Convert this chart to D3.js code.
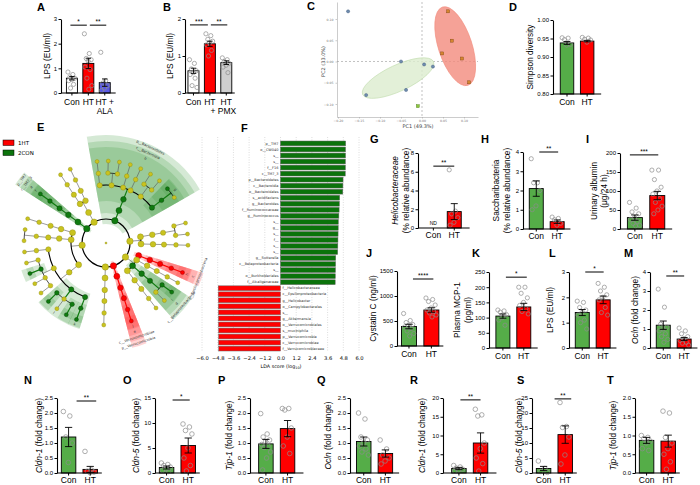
<!DOCTYPE html>
<html>
<head>
<meta charset="utf-8">
<script src="https://cdn.jsdelivr.net/npm/d3@7"></script>
<style>
body { margin: 0; background: #fff; }
svg { font-family: Arial, "Liberation Sans", sans-serif; }
</style>
</head>
<body>
<svg width="700" height="485"></svg>
<script>
const FONT = 'Arial, "Liberation Sans", sans-serif';
const GREEN = "#55ad48", RED = "#ff0000";

// ---------- A / B : LPS ----------
const catsA = ["Con", "HT", "HT +\nALA"];
const meanA = [0.6, 1.2, 0.42];
const semA = [0.07, 0.21, 0.15];
const ptsA = [[0.85, 0.75, 0.65, 0.6, 0.55, 0.5, 0.35, 0.2], [2.4, 1.6, 1.4, 1.35, 1.3, 1.05, 0.95, 0.6, 0.3, 0.15], [1.65, 0.5, 0.4, 0.3, 0.2, 0.1]];
const catsB = ["Con", "HT", "HT\n+ PMX"];
const meanB = [0.6, 1.33, 0.82];
const semB = [0.07, 0.07, 0.05];
const ptsB = [[0.9, 0.8, 0.65, 0.6, 0.55, 0.5, 0.4, 0.2, 0.15], [1.6, 1.55, 1.45, 1.4, 1.35, 1.3, 1.15, 1.0], [0.95, 0.9, 0.85, 0.8, 0.75, 0.7, 0.55]];

// ---------- C : PCoA ----------
const pcaConX = [-0.176, -0.05, 0.005, 0.026, -0.038, -0.133];
const pcaConY = [0.118, 0.0, -0.007, -0.012, -0.067, -0.079];
const pcaHTX = [0.062, 0.071, 0.048, 0.095, 0.112];
const pcaHTY = [0.118, 0.049, 0.019, 0.007, -0.049];
const pcaOtherX = [-0.01];
const pcaOtherY = [-0.105];
const ellCon = [-0.057, -0.039, 0.093, 0.031, -25];
const ellHT = [0.079, 0.036, 0.098, 0.04, 72];

// ---------- D : Simpson ----------
const catsCH = ["Con", "HT"];
const meanD = [0.938, 0.943];
const semD = [0.004, 0.002];
const ptsD = [[0.952, 0.951, 0.947, 0.934, 0.932], [0.953, 0.951, 0.948, 0.946, 0.94]];

// ---------- E : cladogram (name, group 0 none / 1 HT / 2 CON, children) ----------
const taxa = ["Bacteria", 0, [
  ["p__TM7", 2, [["c__TM7_3", 2, [["o__CW040", 2, [["f__F16", 2, [["g__", 2, [["s__", 2]]]]]]]]]]],
  ["p__Tenericutes", 0, [["c__Mollicutes", 0, [["o__RF39", 0, [["f__", 0, [["g__", 0, [["s__", 0]]]]]]], ["o__Anaeroplasmatales", 0, [["f__", 0, [["g__", 0, [["s__", 0]]]]]]]]]]],
  ["p__Bacteroidetes", 2, [["c__Bacteroidia", 2, [["o__Bacteroidales", 2, [
    ["f__S24_7", 0, [["g__", 0, [["s__", 0]]]]],
    ["f__Rikenellaceae", 0, [["g__", 0, [["s__", 0]]], ["g__Rikenella", 0, [["s__", 0]]]]],
    ["f__Prevotellaceae", 0, [["g__Prevotella", 0, [["s__", 0]]]]],
    ["f__Porphyromonadaceae", 0, [["g__Parabacteroides", 0, [["s__distasonis", 0]]]]],
    ["f__Odoribacteraceae", 0, [["g__Odoribacter", 0, [["s__", 0]]], ["g__Butyricimonas", 0, [["s__", 0]]]]],
    ["f__Bacteroidaceae", 2, [["g__Bacteroides", 2, [["s__acidifaciens", 2], ["s__", 0]]]]]
  ]]]]]],
  ["p__Actinobacteria", 0, [["c__Coriobacteriia", 0, [["o__Coriobacteriales", 0, [["f__Coriobacteriaceae", 0, [["g__Adlercreutzia", 0, [["s__", 0]]], ["g__", 0, [["s__", 0]]]]]]]]], ["c__Actinobacteria", 0, [["o__Bifidobacteriales", 0, [["f__Bifidobacteriaceae", 0, [["g__Bifidobacterium", 0, [["s__", 0]]]]]]]]]]],
  ["p__Proteobacteria", 0, [
    ["c__Epsilonproteobacteria", 1, [["o__Campylobacterales", 1, [["f__Helicobacteraceae", 1, [["g__Helicobacter", 1, [["s__", 1]]]]]]]]],
    ["c__Gammaproteobacteria", 0, [["o__Enterobacteriales", 0, [["f__Enterobacteriaceae", 0, [["g__", 0, [["s__", 0]]]]]]]]],
    ["c__Betaproteobacteria", 2, [["o__Burkholderiales", 2, [["f__Alcaligenaceae", 2, [["g__Sutterella", 2, [["s__", 2]]], ["g__Parasutterella", 0, [["s__", 0]]]]]]]]],
    ["c__Deltaproteobacteria", 0, [["o__Desulfovibrionales", 0, [["f__Desulfovibrionaceae", 0, [["g__Desulfovibrio", 0, [["s__", 0]]]]]]]]]
  ]],
  ["p__Verrucomicrobia", 1, [["c__Verrucomicrobiae", 1, [["o__Verrucomicrobiales", 1, [["f__Verrucomicrobiaceae", 1, [["g__Akkermansia", 1, [["s__muciniphila", 1]]]]]]]]]]],
  ["p__Deferribacteres", 0, [["c__Deferribacteres", 0, [["o__Deferribacterales", 0, [["f__Deferribacteraceae", 0, [["g__Mucispirillum", 0, [["s__schaedleri", 0]]]]]]]]]]],
  ["p__Firmicutes", 0, [
    ["c__Clostridia", 0, [["o__Clostridiales", 0, [
      ["f__", 2, [["g__", 2, [["s__", 2]]]]],
      ["f__Ruminococcaceae", 2, [["g__Ruminococcus", 2, [["s__", 2]]], ["g__Oscillospira", 0, [["s__", 0]]], ["g__", 2, [["s__", 2]]]]],
      ["f__Lachnospiraceae", 0, [["g__Dorea", 0, [["s__", 0]]], ["g__Coprococcus", 0, [["s__", 0]]], ["g__", 2, [["s__", 2]]], ["g__Blautia", 0, [["s__", 0]]]]],
      ["f__Clostridiaceae", 0, [["g__Clostridium", 0, [["s__", 0]]]]]
    ]]]],
    ["c__Bacilli", 0, [["o__Lactobacillales", 0, [["f__Lactobacillaceae", 0, [["g__Lactobacillus", 0, [["s__", 0], ["s__reuteri", 0]]]]]]]]],
    ["c__Erysipelotrichi", 0, [["o__Erysipelotrichales", 0, [["f__Erysipelotrichaceae", 0, [["g__Allobaculum", 0, [["s__", 0]]]]]]]]]
  ]]
]];
const legendE = ["1HT", "2CON"];

// ---------- F : LDA ----------
const ldaNames = ["p__TM7", "o__CW040", "s__", "s__", "f__F16", "c__TM7_3", "p__Bacteroidetes", "c__Bacteroidia", "o__Bacteroidales", "s__acidifaciens", "g__Bacteroides", "f__Ruminococcaceae", "g__Ruminococcus", "s__", "g__", "s__", "f__", "s__", "s__", "g__Sutterella", "c__Betaproteobacteria", "s__", "o__Burkholderiales", "f__Alcaligenaceae",
  "f__Helicobacteraceae", "c__Epsilonproteobacteria", "g__Helicobacter", "o__Campylobacterales", "s__", "g__Akkermansia", "o__Verrucomicrobiales", "s__muciniphila", "p__Verrucomicrobia", "c__Verrucomicrobiae", "f__Verrucomicrobiaceae"];
const ldaScores = [4.98, 4.97, 4.97, 4.96, 4.96, 4.95, 4.78, 4.77, 4.76, 4.52, 4.5, 4.48, 4.46, 4.42, 4.41, 4.4, 4.39, 4.38, 4.37, 4.22, 4.21, 4.2, 4.19, 4.18,
  -4.76, -4.76, -4.75, -4.75, -4.74, -4.74, -4.74, -4.73, -4.73, -4.73, -4.72];
const ldaTicks = [-6.0, -4.8, -3.6, -2.4, -1.2, 0.0, 1.2, 2.4, 3.6, 4.8, 6.0];

// ---------- G - M ----------
const meanG = [null, 1.75], semG = [null, 0.85];
const ptsG = [[], [6.2, 1.8, 1.5, 1.1, 0.6, 0.3]];
const meanH = [2.1, 0.38], semH = [0.4, 0.09];
const ptsH = [[3.65, 2.4, 2.4, 2.0, 1.2, 1.0], [0.62, 0.55, 0.48, 0.3, 0.2]];
const meanI = [30, 88], semI = [7, 11];
const ptsI = [[70, 55, 45, 40, 30, 25, 20, 15, 10, 8], [155, 155, 130, 110, 100, 92, 80, 70, 60, 50, 40]];
const meanJ = [390, 720], semJ = [45, 45];
const ptsJ = [[650, 510, 470, 430, 410, 380, 350, 300, 250, 200], [960, 930, 890, 820, 760, 720, 690, 660, 620, 580]];
const meanK = [105, 135], semK = [7, 12];
const ptsK = [[125, 122, 118, 110, 100, 92, 75], [200, 200, 180, 165, 150, 140, 130, 120, 112]];
const meanL = [1.4, 1.9], semL = [0.12, 0.15];
const ptsL = [[1.85, 1.8, 1.6, 1.5, 1.4, 1.3, 1.1, 1.0, 0.75], [2.55, 2.4, 2.25, 2.1, 2.0, 1.9, 1.6, 1.4, 1.3]];
const meanM = [1.2, 0.47], semM = [0.22, 0.08];
const ptsM = [[3.1, 2.15, 1.25, 1.1, 1.0, 0.9, 0.75, 0.6, 0.45, 0.3], [1.05, 0.9, 0.75, 0.6, 0.5, 0.4, 0.3, 0.25, 0.15]];

// ---------- N - T ----------
const meanN = [1.2, 0.12], semN = [0.32, 0.1];
const ptsN = [[2.05, 1.9, 1.2, 1.0, 0.35], [0.72, 0.1, 0.06, 0.03, 0.01]];
const meanO = [1.1, 5.5], semO = [0.3, 1.5];
const ptsO = [[2.0, 1.7, 1.5, 1.2, 0.8, 0.5, 0.3], [9.8, 9.2, 8.5, 7.8, 5.0, 3.0, 1.5, 0.4]];
const meanP = [0.97, 1.48], semP = [0.15, 0.27];
const ptsP = [[1.98, 1.3, 1.2, 1.1, 1.05, 0.95, 0.9, 0.85, 0.7, 0.5, 0.1], [2.15, 2.15, 2.1, 1.5, 1.2, 0.9, 0.65]];
const meanQ = [1.05, 0.65], semQ = [0.15, 0.12];
const ptsQ = [[2.0, 1.8, 1.2, 1.1, 1.0, 0.9, 0.8, 0.7, 0.6], [1.1, 0.8, 0.6, 0.5, 0.4, 0.3]];
const meanR = [1.2, 8.0], semR = [0.3, 2.7];
const ptsR = [[2.0, 1.6, 1.3, 1.0, 0.8, 0.5], [17, 15.5, 15.2, 8, 6.5, 4, 2.5, 0.5]];
const meanS = [1.5, 12.8], semS = [0.7, 2.9];
const ptsS = [[4.0, 1.5, 0.5, 0.2], [23.5, 15.5, 15.2, 12, 6, 3]];
const meanT = [0.87, 0.85], semT = [0.08, 0.16];
const ptsT = [[1.0, 0.95, 0.92, 0.85, 0.8, 0.65, 0.6], [1.65, 1.6, 0.95, 0.8, 0.65, 0.5, 0.3, 0.1]];

const svg = d3.select("svg");

function letter(t, x, y) {
  svg.append("text").attr("x", x).attr("y", y).attr("font-size", 11).attr("font-weight", "bold").text(t);
}

// generic GraphPad-style bar panel
function barPanel(p) {
  const n = p.cats.length, pi = 0.33, po = p.po;
  const step = p.bw / (1 - pi), len = step * (n - pi + 2 * po);
  const x = d3.scaleBand().domain(d3.range(n)).range([p.ax, p.ax + len]).paddingInner(pi).paddingOuter(po);
  const y = d3.scaleLinear().domain(p.domain).range([p.yb, p.yt]);
  const bw = x.bandwidth(), cx = i => x(i) + bw / 2, base = y(p.domain[0]);
  const g = svg.append("g");
  const groups = p.means.map((m, i) => ({i, m, s: p.sems[i], pts: p.pts[i], col: p.colors[i]}));

  g.selectAll("rect").data(groups.filter(d => d.m != null)).join("rect")
    .attr("x", d => x(d.i)).attr("y", d => y(d.m))
    .attr("width", bw).attr("height", d => base - y(d.m))
    .attr("fill", d => d.col).attr("stroke", "#000").attr("stroke-width", 0.9);

  groups.forEach(d => {
    g.append("g").selectAll("circle").data(d.pts).join("circle")
      .attr("cx", (v, k) => cx(d.i) + (((k * 0.618) % 1) - 0.5) * bw * 0.72)
      .attr("cy", v => y(v)).attr("r", p.pr || 2.1)
      .attr("fill", "none").attr("stroke", "#8c8c8c").attr("stroke-width", 0.7);
  });

  groups.filter(d => d.m != null).forEach(d => {
    const c = cx(d.i), cw = bw * 0.25;
    const lo = Math.min(base, y(d.m - d.s)), hi = y(d.m + d.s);
    g.append("line").attr("x1", c).attr("x2", c).attr("y1", lo).attr("y2", hi).attr("stroke", "#000").attr("stroke-width", 0.9);
    [lo, hi].forEach(v => g.append("line").attr("x1", c - cw).attr("x2", c + cw).attr("y1", v).attr("y2", v).attr("stroke", "#000").attr("stroke-width", 0.9));
  });

  const ya = g.append("g").attr("transform", `translate(${p.ax},0)`)
    .call(d3.axisLeft(y).tickValues(p.ticks).tickFormat(p.fmt || d3.format("d")).tickSize(2.5).tickSizeOuter(0).tickPadding(1.5));
  ya.attr("font-size", 6).attr("font-family", FONT);
  ya.select(".domain").attr("stroke-width", 1.1);
  ya.selectAll(".tick line").attr("stroke-width", 1);

  g.append("line").attr("x1", p.ax).attr("x2", p.ax + len).attr("y1", base).attr("y2", base).attr("stroke", "#000").attr("stroke-width", 1.1);
  g.selectAll(".xt").data(d3.range(n)).join("line").attr("class", "xt")
    .attr("x1", cx).attr("x2", cx).attr("y1", base).attr("y2", base + 2.5).attr("stroke", "#000").attr("stroke-width", 1);

  p.cats.forEach((c, i) => {
    c.split("\n").forEach((s, k) => {
      g.append("text").attr("x", cx(i) + (k ? (p.l2dx || 0) : 0)).attr("y", base + (p.ly || 11) + k * 9)
        .attr("text-anchor", "middle").attr("font-size", 8.5).text(s);
    });
  });

  p.titles.forEach(t => {
    const tt = g.append("text").attr("transform", `translate(${t.x},${(p.yt + p.yb) / 2}) rotate(-90)`)
      .attr("text-anchor", "middle").attr("font-size", 8.3);
    t.segs.forEach(([s, it]) => tt.append("tspan").attr("font-style", it ? "italic" : null).text(s));
  });

  (p.sig || []).forEach(s => {
    const x1 = cx(s.a) + s.d[0], x2 = cx(s.b) + s.d[1], yy = y(s.v);
    g.append("line").attr("x1", x1).attr("x2", x2).attr("y1", yy).attr("y2", yy).attr("stroke", "#000").attr("stroke-width", 1);
    g.append("text").attr("x", (x1 + x2) / 2).attr("y", yy - 1.2).attr("text-anchor", "middle").attr("font-size", 6.5).text(s.t);
  });

  (p.nd || []).forEach(i => g.append("text").attr("x", cx(i)).attr("y", base - 3).attr("text-anchor", "middle").attr("font-size", 5).text("ND"));
}

const tk = (a, b, s) => d3.range(a, b + s / 2, s);
const f1 = d3.format(".1f"), f2 = d3.format(".2f");
const tit = s => [[s, false]];

// ---------- A ----------
letter("A", 37, 11);
barPanel({cats: catsA, means: meanA, sems: semA, pts: ptsA, colors: ["#fff", RED, "#5a5ae6"],
  ax: 61, po: 0.33, bw: 11, yt: 19, yb: 93, domain: [0, 3], ticks: tk(0, 3, 1), ly: 12,
  titles: [{x: 50, segs: tit("LPS (EU/ml)")}],
  sig: [{a: 0, b: 1, v: 2.75, t: "*", d: [-1.5, -1.5]}, {a: 1, b: 2, v: 2.75, t: "**", d: [1.5, 1.5]}]});

// ---------- B ----------
letter("B", 163, 11);
barPanel({cats: catsB, means: meanB, sems: semB, pts: ptsB, colors: ["#fff", RED, "#cfcfcf"],
  ax: 185, po: 0.18, bw: 11, yt: 19, yb: 93, domain: [0, 2], ticks: tk(0, 2, 1), ly: 12, l2dx: -3,
  titles: [{x: 173, segs: tit("LPS (EU/ml)")}],
  sig: [{a: 0, b: 1, v: 1.84, t: "***", d: [-3.5, -2]}, {a: 1, b: 2, v: 1.84, t: "**", d: [1, 1]}]});

// ---------- C ----------
letter("C", 307, 10);
{
  const g = svg.append("g");
  const x = d3.scaleLinear().domain([-0.2024, 0.1333]).range([337, 478]);
  const y = d3.scaleLinear().domain([-0.1306, 0.14]).range([117, 2]);
  const xa = g.append("g").attr("transform", "translate(0,117)")
    .call(d3.axisBottom(x).tickValues(tk(-0.2, 0.1, 0.05)).tickFormat(f2).tickSize(1.5).tickSizeOuter(0).tickPadding(1.5));
  const ya = g.append("g").attr("transform", "translate(337,0)")
    .call(d3.axisLeft(y).tickValues(tk(-0.1, 0.1, 0.05)).tickFormat(f2).tickSize(1.5).tickSizeOuter(0).tickPadding(2));
  [xa, ya].forEach(a => {
    a.attr("font-size", 3.2).attr("font-family", "DejaVu Sans");
    a.selectAll("text").attr("fill", "#777");
    a.selectAll("path,line").attr("stroke", "#aaa").attr("stroke-width", 0.6);
  });
  g.append("line").attr("x1", x(0)).attr("x2", x(0)).attr("y1", 2).attr("y2", 117)
    .attr("stroke", "#999").attr("stroke-width", 0.6).attr("stroke-dasharray", "2,2");
  g.append("line").attr("x1", 337).attr("x2", 478).attr("y1", y(0)).attr("y2", y(0))
    .attr("stroke", "#999").attr("stroke-width", 0.6).attr("stroke-dasharray", "2,2");
  const ell = (e, fill, stroke, op) => g.append("ellipse")
    .attr("transform", `translate(${x(e[0])},${y(e[1])}) rotate(${e[4]})`)
    .attr("rx", x(e[2]) - x(0)).attr("ry", x(e[3]) - x(0))
    .attr("fill", fill).attr("fill-opacity", op).attr("stroke", stroke).attr("stroke-width", 0.6);
  ell(ellCon, "#dcecce", "#c2dcae", 0.8);
  ell(ellHT, "#f28b7d", "#f28b7d", 0.8);
  g.selectAll(".pc").data(d3.zip(pcaConX, pcaConY)).join("circle")
    .attr("cx", d => x(d[0])).attr("cy", d => y(d[1])).attr("r", 1.6)
    .attr("fill", "#6f8cae").attr("stroke", "#3b5778").attr("stroke-width", 0.4);
  g.selectAll(".ph").data(d3.zip(pcaHTX, pcaHTY)).join("rect")
    .attr("x", d => x(d[0]) - 1.5).attr("y", d => y(d[1]) - 1.5).attr("width", 3).attr("height", 3)
    .attr("fill", "#d6862f").attr("stroke", "#7a4410").attr("stroke-width", 0.4);
  g.selectAll(".po").data(d3.zip(pcaOtherX, pcaOtherY)).join("rect")
    .attr("x", d => x(d[0]) - 1.5).attr("y", d => y(d[1]) - 1.5).attr("width", 3).attr("height", 3)
    .attr("fill", "#8cc63f").attr("stroke", "#4d7a1a").attr("stroke-width", 0.4);
  g.append("text").attr("transform", `translate(325,${y(0)}) rotate(-90)`).attr("text-anchor", "middle")
    .attr("font-size", 5).attr("font-family", "DejaVu Sans").attr("fill", "#444").text("PC2 (33.0%)");
  g.append("text").attr("x", 418).attr("y", 128).attr("text-anchor", "middle")
    .attr("font-size", 5).attr("font-family", "DejaVu Sans").attr("fill", "#444").text("PC1 (49.3%)");
}

// ---------- D ----------
letter("D", 509, 11);
barPanel({cats: catsCH, means: meanD, sems: semD, pts: ptsD, colors: [GREEN, RED],
  ax: 553, po: 0.36, bw: 13.5, yt: 20, yb: 94, domain: [0.8, 1.0], ticks: tk(0.8, 1.0, 0.05), fmt: f2,
  titles: [{x: 533, segs: tit("Simpson diversity")}]});

// ---------- E : cladogram ----------
letter("E", 37, 131);
{
  const g = svg.append("g");
  legendE.forEach((t, i) => {
    g.append("rect").attr("x", 3).attr("y", 140 + i * 10).attr("width", 11).attr("height", 5.5)
      .attr("fill", i ? "#0c730c" : RED).attr("stroke", "#000").attr("stroke-width", 0.5);
    g.append("text").attr("x", 18).attr("y", 145 + i * 10).attr("font-size", 5.5).attr("font-family", "DejaVu Sans").text(t);
  });
  const root = d3.hierarchy(taxa, d => d[2]);
  const phylum = nd => nd.ancestors().find(a => a.depth === 1);
  d3.cluster().size([360, 1]).separation((a, b) => phylum(a) === phylum(b) ? 1 : 2.5)(root);
  const ringR = [0, 24, 35, 47, 58, 70, 82];
  const nodeR = [1, 3.2, 3.0, 2.8, 2.6, 2.3, 2.0];
  const cx = 106, cy = 243, rot = -153;
  const ang = nd => (nd.x + rot) * Math.PI / 180;
  const pt = (a, r) => [cx + r * Math.cos(a), cy + r * Math.sin(a)];
  const fillOf = ["#c9c31f", RED, "#0f7a0f"], strokeOf = ["#8d8a10", "#9a0000", "#064006"];
  const wedgeCol = ["none", "#ff3a3a", "#3f9d3f"];
  const pad = 4 * Math.PI / 180;
  let code = 0;
  const highlighted = root.descendants().filter(nd => nd.depth > 0 && nd.data[1] > 0);
  highlighted.forEach(nd => {
    const ext = d3.extent(nd.leaves(), l => (l.x + rot) * Math.PI / 180);
    const inner = ringR[nd.depth] - 5;
    const outer = Math.max(108 - (nd.depth - 1) * 6, ringR[nd.depth] + 7);
    g.append("path").attr("transform", `translate(${cx},${cy})`)
      .attr("d", d3.arc()({innerRadius: inner, outerRadius: outer, startAngle: ext[0] - pad + Math.PI / 2, endAngle: ext[1] + pad + Math.PI / 2}))
      .attr("fill", wedgeCol[nd.data[1]]).attr("fill-opacity", 0.22);
    if (nd.depth <= 5) {
      const mid = (ext[0] + ext[1]) / 2, deg = mid * 180 / Math.PI;
      const [px, py] = pt(mid, outer - 2.8);
      let r = deg + 90;
      const dn = ((deg % 360) + 360) % 360;
      if (dn > 0 && dn < 180) r = deg - 90;
      const label = nd.depth <= 2 ? nd.data[0] : String.fromCharCode(97 + (code++ % 26));
      g.append("text").attr("transform", `translate(${px},${py}) rotate(${r})`)
        .attr("text-anchor", "middle").attr("dominant-baseline", "middle")
        .attr("font-size", 3.6).attr("font-family", "DejaVu Sans").attr("fill", "#333").text(label);
    }
  });
  // branches
  root.each(nd => {
    if (!nd.children) return;
    const rc = ringR[nd.depth + 1];
    if (nd.depth === 0) {
      g.append("circle").attr("cx", cx).attr("cy", cy).attr("r", rc).attr("fill", "none").attr("stroke", "#000").attr("stroke-width", 1.2);
      return;
    }
    const a = ang(nd), p0 = pt(a, ringR[nd.depth]), p1 = pt(a, rc);
    const grp = nd.data[1];
    g.append("line").attr("x1", p0[0]).attr("y1", p0[1]).attr("x2", p1[0]).attr("y2", p1[1])
      .attr("stroke", grp === 1 ? RED : grp === 2 ? "#0f7a0f" : "#555").attr("stroke-width", grp ? 1.2 : 0.6);
    const angs = nd.children.map(ang).concat([a]);
    const [a0, a1] = d3.extent(angs);
    if (a1 - a0 > 1e-4) {
      const path = d3.path();
      path.arc(cx, cy, rc, a0, a1);
      g.append("path").attr("d", path.toString()).attr("fill", "none").attr("stroke", "#000").attr("stroke-width", nd.depth <= 3 ? 1.1 : 0.7);
    }
  });
  g.selectAll(".nd").data(root.descendants()).join("circle")
    .attr("cx", nd => pt(ang(nd), ringR[nd.depth])[0])
    .attr("cy", nd => pt(ang(nd), ringR[nd.depth])[1])
    .attr("r", nd => nodeR[nd.depth])
    .attr("fill", nd => fillOf[nd.data[1]]).attr("stroke", nd => strokeOf[nd.data[1]]).attr("stroke-width", 0.4);
}

// ---------- F : LDA ----------
letter("F", 241, 132);
{
  const g = svg.append("g");
  const x = d3.scaleLinear().domain([-6, 6]).range([202, 359]);
  const y = d3.scaleBand().domain(d3.range(ldaNames.length)).range([141, 351]).paddingInner(0.2);
  g.selectAll(".gl").data(ldaTicks).join("line").attr("x1", x).attr("x2", x).attr("y1", 137).attr("y2", 352)
    .attr("stroke", "#bbb").attr("stroke-width", 0.5).attr("stroke-dasharray", "1,1.5");
  g.selectAll(".bar").data(ldaScores).join("rect")
    .attr("x", v => x(Math.min(0, v))).attr("y", (v, i) => y(i))
    .attr("width", v => Math.abs(x(v) - x(0))).attr("height", y.bandwidth())
    .attr("fill", v => v > 0 ? "#0b730b" : RED).attr("stroke", "#666").attr("stroke-width", 0.5);
  g.selectAll(".lb").data(ldaNames).join("text")
    .attr("x", (d, i) => ldaScores[i] > 0 ? x(0) - 2 : x(0) + 2)
    .attr("y", (d, i) => y(i) + y.bandwidth() / 2 + 1.2)
    .attr("text-anchor", (d, i) => ldaScores[i] > 0 ? "end" : "start")
    .attr("font-size", 3.5).attr("font-family", "DejaVu Sans").attr("fill", "#333").text(d => d);
  const xa = g.append("g").attr("transform", "translate(0,352)")
    .call(d3.axisBottom(x).tickValues(ldaTicks).tickFormat(f1).tickSize(0).tickPadding(4));
  xa.attr("font-size", 5.2).attr("font-family", "DejaVu Sans");
  xa.select(".domain").remove();
  const t = g.append("text").attr("x", 281).attr("y", 368).attr("text-anchor", "middle")
    .attr("font-size", 4.8).attr("font-family", "DejaVu Sans").text("LDA score (log");
  t.append("tspan").attr("font-size", 3.4).attr("dy", 1.2).text("10");
  t.append("tspan").attr("dy", -1.2).text(")");
}

// ---------- G, H, I ----------
letter("G", 370, 143);
barPanel({cats: catsCH, means: meanG, sems: semG, pts: ptsG, colors: [GREEN, RED], nd: [0],
  ax: 418, po: 0.4, bw: 14, yt: 153, yb: 228, domain: [0, 8], ticks: tk(0, 8, 2), ly: 10,
  titles: [{x: 398, segs: [["Helicobacteraceae", true]]}, {x: 409, segs: tit("(% relative abundance)")}],
  sig: [{a: 0, b: 1, v: 6.6, t: "**", d: [0, 0]}]});
letter("H", 481, 143);
barPanel({cats: catsCH, means: meanH, sems: semH, pts: ptsH, colors: [GREEN, RED],
  ax: 523, po: 0.3, bw: 14, yt: 152, yb: 229, domain: [0, 4], ticks: tk(0, 4, 1), ly: 10,
  titles: [{x: 499, segs: tit("Saccharibacteria")}, {x: 510, segs: tit("(% relative abundance)")}],
  sig: [{a: 0, b: 1, v: 4.0, t: "**", d: [3, 1]}]});
letter("I", 586, 143);
barPanel({cats: catsCH, means: meanI, sems: semI, pts: ptsI, colors: [GREEN, RED],
  ax: 620, po: 0.33, bw: 15, yt: 153, yb: 229, domain: [0, 200], ticks: tk(0, 200, 50), ly: 10,
  titles: [{x: 597, segs: tit("Urinary albumin")}, {x: 607, segs: tit("(μg/24 h)")}],
  sig: [{a: 0, b: 1, v: 195, t: "***", d: [-5, 1]}]});

// ---------- J, K, L, M ----------
letter("J", 366, 257);
barPanel({cats: catsCH, means: meanJ, sems: semJ, pts: ptsJ, colors: [GREEN, RED],
  ax: 397, po: 0.2, bw: 15, yt: 271, yb: 346, domain: [0, 1500], ticks: tk(0, 1500, 500),
  titles: [{x: 376, segs: tit("Cystatin C (ng/ml)")}],
  sig: [{a: 0, b: 1, v: 1340, t: "****", d: [4, 2]}]});
letter("K", 472, 257);
barPanel({cats: catsCH, means: meanK, sems: semK, pts: ptsK, colors: [GREEN, RED],
  ax: 489, po: 0.33, bw: 14, yt: 272, yb: 348, domain: [0, 250], ticks: tk(0, 250, 50),
  titles: [{x: 460, segs: tit("Plasma MCP-1")}, {x: 471, segs: tit("(pg/ml)")}],
  sig: [{a: 0, b: 1, v: 233, t: "*", d: [3, 3]}]});
letter("L", 549, 257);
barPanel({cats: catsCH, means: meanL, sems: semL, pts: ptsL, colors: [GREEN, RED],
  ax: 569, po: 0.3, bw: 14, yt: 272, yb: 348, domain: [0, 3], ticks: tk(0, 3, 1),
  titles: [{x: 553, segs: tit("LPS (EU/ml)")}],
  sig: [{a: 0, b: 1, v: 3.0, t: "*", d: [3, 0.5]}]});
letter("M", 624, 257);
barPanel({cats: catsCH, means: meanM, sems: semM, pts: ptsM, colors: [GREEN, RED],
  ax: 650, po: 0.3, bw: 14, yt: 272, yb: 348, domain: [0, 4], ticks: tk(0, 4, 1),
  titles: [{x: 638, segs: [["Ocln", true], [" (fold change)", false]]}],
  sig: [{a: 0, b: 1, v: 3.79, t: "**", d: [3, 0]}]});

// ---------- N - T ----------
const bottom = [
  ["N", 24, {means: meanN, sems: semN, pts: ptsN, ax: 57, po: 0.2, domain: [0, 2.5], ticks: tk(0, 2.5, 0.5), fmt: f1, tx: 42, gene: "Cldn-1", sig: [{a: 0, b: 1, v: 2.4, t: "**", d: [8, 6]}]}],
  ["O", 123, {means: meanO, sems: semO, pts: ptsO, ax: 155, po: 0.2, domain: [0, 15], ticks: tk(0, 15, 5), tx: 139, gene: "Cldn-5", sig: [{a: 0, b: 1, v: 14.6, t: "*", d: [6, 1.5]}]}],
  ["P", 218, {means: meanP, sems: semP, pts: ptsP, ax: 250, po: 0.4, domain: [0, 2.5], ticks: tk(0, 2.5, 0.5), fmt: f1, tx: 232, gene: "Tjp-1"}],
  ["Q", 317, {means: meanQ, sems: semQ, pts: ptsQ, ax: 350, po: 0.3, domain: [0, 2.5], ticks: tk(0, 2.5, 0.5), fmt: f1, tx: 331, gene: "Ocln"}],
  ["R", 410, {means: meanR, sems: semR, pts: ptsR, ax: 443, po: 0.4, domain: [0, 20], ticks: tk(0, 20, 5), tx: 425, gene: "Cldn-1", sig: [{a: 0, b: 1, v: 19.5, t: "**", d: [1.5, 0]}]}],
  ["S", 517, {means: meanS, sems: semS, pts: ptsS, ax: 532, po: 0.2, domain: [0, 25], ticks: tk(0, 25, 5), tx: 522, gene: "Cldn-5", sig: [{a: 0, b: 1, v: 24.7, t: "**", d: [11, 6]}]}],
  ["T", 607, {means: meanT, sems: semT, pts: ptsT, ax: 635, po: 0.2, domain: [0, 2.0], ticks: tk(0, 2.0, 0.5), fmt: f1, tx: 616, gene: "Tjp-1"}]
];
bottom.forEach(([L, lx, p]) => {
  letter(L, lx, 384);
  barPanel(Object.assign({cats: catsCH, colors: [GREEN, RED], bw: 14.5, yt: 398, yb: 473, ly: 10, pr: 2.3,
    titles: [{x: p.tx, segs: [[p.gene, true], [" (fold change)", false]]}]}, p));
});
</script>
</body>
</html>
